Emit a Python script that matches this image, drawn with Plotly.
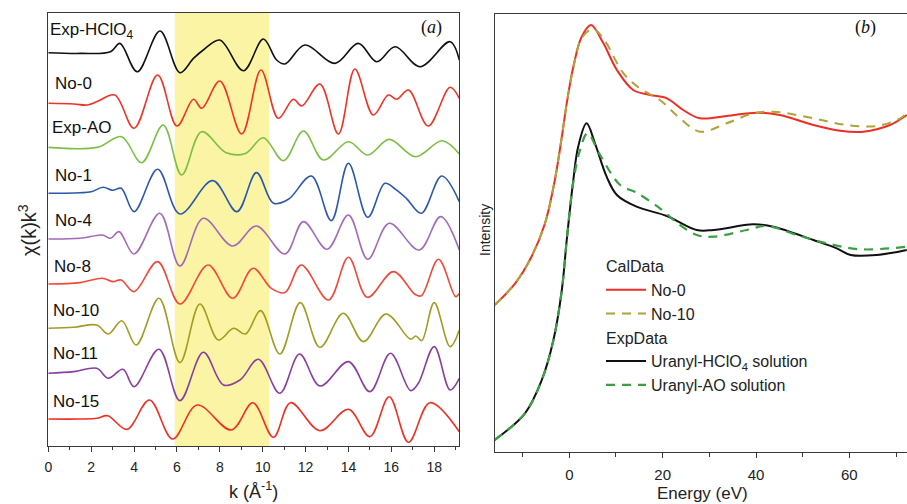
import plotly.graph_objects as go

# ---------------- Panel (a): chi(k)k^3 curves ----------------
labels_a = ["Exp-HClO<sub>4</sub>", "No-0", "Exp-AO", "No-1", "No-4", "No-8", "No-10", "No-11", "No-15"]
colors_a = ["#111111", "#ee3427", "#7cc043", "#2b59a9", "#a36ab9", "#ef4b3b", "#a39b22", "#8a3f9e", "#ee3124"]
offsets_a = [393.3, 342.7, 299.3, 252.7, 207.7, 162.7, 117.7, 72.7, 27.0]

k_exp_hclo4 = [0, 1.5, 2.9, 3.34, 4.15, 5.21, 6.14, 6.77, 7.23, 8.0, 9.1, 10.03, 10.65, 11.04, 11.97, 13.37, 14.46, 15.32, 16.18, 17.34, 18.74, 19.17]
v_exp_hclo4 = [0, -0.7, 1, 9.3, -19, 21.7, -20, -5.7, 2.7, 12.7, -18, 13.7, -7.3, -11.3, 7.7, -10.7, 9.3, -9, 6, -14, 11, -7.3]

k_no0 = [0, 1.19, 1.82, 2.28, 3.1, 4.0, 5.1, 6.0, 6.77, 7.16, 8.0, 9.02, 9.92, 10.73, 11.43, 11.82, 12.67, 13.53, 14.3, 15.16, 15.86, 16.25, 16.8, 17.72, 18.74, 19.17]
v_no0 = [0, -0.7, -1.7, 1.7, 8.3, -25, 28.3, -22.7, 4, -5, 22.3, -30.7, 33.3, -15, 4, -2.7, 19.3, -30.7, 34.3, -11.7, 8.3, 4, 13.3, -22.7, 16, 5]

k_exp_ao = [0, 2.28, 3.42, 4.35, 5.36, 6.22, 7.15, 8.3, 9.2, 10.03, 10.97, 11.9, 12.83, 14.0, 14.9, 15.9, 17.13, 18.37, 19.17]
v_exp_ao = [-0.7, -0.7, 10, -16, 21.7, -28.3, 15, -6, -6.7, 9, -14, 15.7, -13.3, 5, -8.3, 7.3, -10, 6, -7.3]

k_no1 = [0, 1.48, 2.0, 2.55, 3.0, 3.4, 4.0, 5.1, 6.14, 7.67, 8.8, 9.71, 10.5, 11.2, 12.27, 13.2, 14.0, 14.9, 15.7, 16.2, 16.7, 17.4, 18.35, 19.17]
v_no1 = [0, 0.5, 1.5, 6, 3, 5, -18.3, 24, -20.7, 12.7, -18.3, 20.7, -10, -6, 17.3, -27.3, 30, -24, 10, 4, -5, -20, 17.3, -8.3]

k_no4 = [0, 1.48, 2.52, 2.9, 3.3, 4.0, 5.2, 6.14, 7.23, 8.6, 9.7, 11.04, 11.9, 13.0, 14.0, 14.9, 15.9, 17.3, 18.3, 19.17]
v_no4 = [-0.7, 0, 3.3, 0, 6.7, -15.7, 25, -27.7, 20, -7.7, 12.3, -15.7, 16.7, -11, 23.3, -21, 15, -11.7, 21.7, -11.7]

k_no8 = [0, 1.48, 2.52, 3.0, 3.4, 4.0, 5.1, 6.14, 7.45, 8.6, 9.55, 10.4, 11.04, 11.8, 13.07, 14.0, 14.88, 16.1, 17.1, 17.4, 18.2, 19.0, 19.17]
v_no8 = [-0.7, 0.7, 5, 1.7, 3.3, -8.3, 21.7, -20.7, 18.3, -15, 15, -5, -9.3, 18.3, -16.7, 26, -14, 11.7, -11, -12.5, 24, -13.3, -10]

k_no10 = [0, 1.19, 2.26, 2.8, 3.43, 4.1, 5.16, 6.14, 7.07, 7.93, 8.64, 9.2, 9.9, 10.8, 11.75, 12.67, 13.76, 14.7, 15.75, 16.9, 17.14, 17.42, 18.0, 18.74, 19.17]
v_no10 = [0, 1, 3.3, -5.7, 7.5, -16.7, 30, -34.3, 24.3, -11.7, 0, -5.7, 17.7, -25.7, 25.7, -19, 15, -13.3, 14.3, -11, -7.7, -12.3, 25.7, -18.3, -1.7]

k_no11 = [0, 1.19, 2.26, 2.8, 3.48, 4.0, 5.16, 6.14, 7.23, 8.17, 8.94, 9.8, 10.8, 11.72, 12.67, 14.0, 15.0, 15.96, 16.9, 17.26, 18.0, 18.74, 19.17]
v_no11 = [0, 1.7, 5, -5, 4, -13.3, 24, -27.3, 21, -11.7, -6.7, 14, -20, 19.3, -12.7, 11.7, -18.3, 20, -17.3, -10, 26.7, -16.7, -5]

k_no15 = [0, 1.48, 2.26, 2.77, 3.67, 4.72, 5.8, 6.94, 8.54, 9.54, 10.5, 11.3, 12.67, 14.0, 15.0, 15.9, 16.8, 17.8, 19.17]
v_no15 = [0, 0, 0.7, 3.3, -10.3, 19, -20, 14, -11, 16.3, -18.3, 16.3, -11.7, 9.7, -17.7, 22.3, -23.3, 16.3, -12.7]

k_series = [k_exp_hclo4, k_no0, k_exp_ao, k_no1, k_no4, k_no8, k_no10, k_no11, k_no15]
v_series = [v_exp_hclo4, v_no0, v_exp_ao, v_no1, v_no4, v_no8, v_no10, v_no11, v_no15]

highlight_k = [5.9, 10.3]

# ---------------- Panel (b): XANES ----------------
E_no0 = [-16, -11.6, -8.1, -5.2, -3.1, -1.6, -0.55, 0.86, 2.65, 4.65, 7.3, 10.2, 13.7, 17.3, 20.9, 24.4, 28, 33.7, 40.2, 45.1, 52.3, 58, 63, 68.7, 72.3]
I_no0 = [147, 168.7, 195.3, 228.7, 272, 315.3, 348.7, 385.3, 415.3, 427, 408.7, 382, 362, 357, 353.7, 342, 333.7, 336, 339.3, 337, 327, 321.3, 320.3, 327, 337]

E_no10 = [-16, -11.6, -8.1, -5.2, -3.1, -1.6, -0.55, 0.86, 2.65, 5.1, 7.5, 11.6, 15.1, 19.4, 23.7, 28, 33.7, 39.4, 43.7, 52.3, 59.4, 65.9, 70.9, 72.3]
I_no10 = [147, 168.7, 195.3, 228.7, 272, 315.3, 348.7, 384, 414, 423, 412, 378.7, 363.7, 352, 333.7, 320.3, 328.7, 338.7, 340.3, 333.7, 327, 326, 333.7, 339]

E_hclo4 = [-16, -9.5, -5.9, -3.4, -1.6, -0.55, 0.86, 1.9, 3.7, 5.5, 8, 10.2, 14.4, 20.9, 27.3, 30.9, 39.4, 43.7, 52.3, 57.3, 60.3, 65.9, 72.3]
I_hclo4 = [12, 38.7, 72, 112, 162, 212, 272, 305.3, 328.7, 308.7, 275.3, 257, 245.3, 236, 222, 222, 227.7, 225.3, 212, 203.7, 197, 197, 202]

E_ao = [-16, -9.5, -5.9, -3.4, -1.6, -0.55, 0.86, 2.3, 3.9, 6.6, 10.9, 14.4, 19.4, 23.7, 27.3, 30.9, 38, 42.3, 49.4, 55.2, 62.3, 72.3]
I_ao = [12, 38.7, 72, 112, 162, 212, 270, 302, 318.7, 297, 267, 259.3, 243.7, 227, 217, 215.3, 222, 226, 216, 208.7, 202.7, 205.3]

W, H = 907, 504
FONT = "Liberation Sans, Arial, sans-serif"
SERIF = "Liberation Serif, Times New Roman, serif"
AXC = "#3a3a3a"

fig = go.Figure()

for lab, col, off, ks, vs in zip(labels_a, colors_a, offsets_a, k_series, v_series):
    fig.add_trace(go.Scatter(
        x=ks, y=[off + v for v in vs], mode="lines",
        line=dict(color=col, width=1.6, shape="spline", smoothing=1.0),
        showlegend=False, xaxis="x", yaxis="y", hoverinfo="skip"))

# label positions (text left edge / vertical centre) for panel a
lab_pos = [(48, 31), (53, 84), (50, 127), (53, 175), (53, 220), (52, 266), (51, 310), (51, 353), (51, 401)]
for lab, (px, py) in zip(labels_a, lab_pos):
    fig.add_annotation(x=px / W, y=1 - py / H, xref="paper", yref="paper",
                       text=lab, showarrow=False, xanchor="left", yanchor="middle",
                       font=dict(family=FONT, size=17, color="#111"))

# panel b traces
fig.add_trace(go.Scatter(x=E_no0, y=I_no0, mode="lines", name="No-0",
                         line=dict(color="#ee2d24", width=2, shape="spline"),
                         legendgroup="cal", legendgrouptitle=dict(text="CalData"),
                         xaxis="x2", yaxis="y2", hoverinfo="skip"))
fig.add_trace(go.Scatter(x=E_no10, y=I_no10, mode="lines", name="No-10",
                         line=dict(color="#aea437", width=2, dash="9px,7px", shape="spline"),
                         legendgroup="cal",
                         xaxis="x2", yaxis="y2", hoverinfo="skip"))
fig.add_trace(go.Scatter(x=E_hclo4, y=I_hclo4, mode="lines", name="Uranyl-HClO<sub>4</sub> solution",
                         line=dict(color="#111111", width=2, shape="spline"),
                         legendgroup="exp", legendgrouptitle=dict(text="ExpData"),
                         xaxis="x2", yaxis="y2", hoverinfo="skip"))
fig.add_trace(go.Scatter(x=E_ao, y=I_ao, mode="lines", name="Uranyl-AO solution",
                         line=dict(color="#3aa041", width=2.2, dash="9px,7px", shape="spline"),
                         legendgroup="exp",
                         xaxis="x2", yaxis="y2", hoverinfo="skip"))

# highlight band
fig.add_shape(type="rect", xref="x", yref="y domain", x0=highlight_k[0], x1=highlight_k[1],
              y0=0, y1=1, fillcolor="#fbf4a4", line=dict(width=0), layer="below")


def note(px, py, text, size, family=FONT, angle=0, color="#222"):
    fig.add_annotation(x=px / W, y=1 - py / H, xref="paper", yref="paper", text=text,
                       textangle=angle, showarrow=False, xanchor="center", yanchor="middle",
                       font=dict(family=family, size=size, color=color))


# axis titles / panel tags
note(28, 230, "χ(k)k<sup>3</sup>", 20, angle=-90)
note(254, 490, "k (Å<sup>-1</sup>)", 18)
note(702, 493, "Energy (eV)", 17)
note(485, 230, "Intensity", 14, angle=-90)
note(431, 27, "(<i>a</i>)", 18, family=SERIF, color="#111")
note(865, 27, "(<i>b</i>)", 18, family=SERIF, color="#111")

fig.update_layout(
    width=W, height=H, margin=dict(l=0, r=0, t=0, b=0, autoexpand=False),
    paper_bgcolor="white", plot_bgcolor="white",
    font=dict(family=FONT, size=14, color="#222"),
    xaxis=dict(domain=[48.3 / W, 459.3 / W], range=[0, 19.17], anchor="y", automargin=False,
               showline=True, mirror=True, linecolor=AXC, linewidth=1.3,
               ticks="outside", ticklen=5, tickwidth=1.2, tickcolor=AXC,
               tick0=0, dtick=2, showgrid=False, zeroline=False, ticklabelstandoff=3,
               minor=dict(dtick=1, ticks="outside", ticklen=3, tickcolor=AXC, showgrid=False),
               tickfont=dict(size=14, family=FONT, color="#222")),
    yaxis=dict(domain=[1 - 446 / H, 1 - 13 / H], range=[0, 433], anchor="x", automargin=False,
               showline=True, mirror=True, linecolor=AXC, linewidth=1.3,
               showticklabels=False, ticks="", showgrid=False, zeroline=False),
    xaxis2=dict(domain=[495 / W, 1.0], range=[-15.92, 72.35], anchor="y2", automargin=False,
                showline=True, mirror=True, linecolor=AXC, linewidth=1.3,
                ticks="outside", ticklen=5, tickwidth=1.2, tickcolor=AXC,
                tickvals=[0, 20, 40, 60], showgrid=False, zeroline=False, ticklabelstandoff=4,
                minor=dict(tickvals=[-10, 10, 30, 50, 70], ticks="outside", ticklen=4, tickcolor=AXC, showgrid=False),
                tickfont=dict(size=15, family=FONT, color="#222")),
    yaxis2=dict(domain=[1 - 452 / H, 1 - 14 / H], range=[0, 438], anchor="x2", automargin=False,
                showline=True, mirror=False, linecolor=AXC, linewidth=1.3,
                showticklabels=False, ticks="", showgrid=False, zeroline=False),
    legend=dict(x=601 / W, y=1 - 249 / H, xanchor="left", yanchor="top",
                bgcolor="rgba(0,0,0,0)", tracegroupgap=0,
                font=dict(family=FONT, size=16, color="#222"),
                grouptitlefont=dict(family=FONT, size=16, color="#222"),
                itemwidth=40),
)

fig.write_html("out.html", config={"displayModeBar": False},
               post_script="document.body.style.margin='0';document.body.style.overflow='hidden';")
